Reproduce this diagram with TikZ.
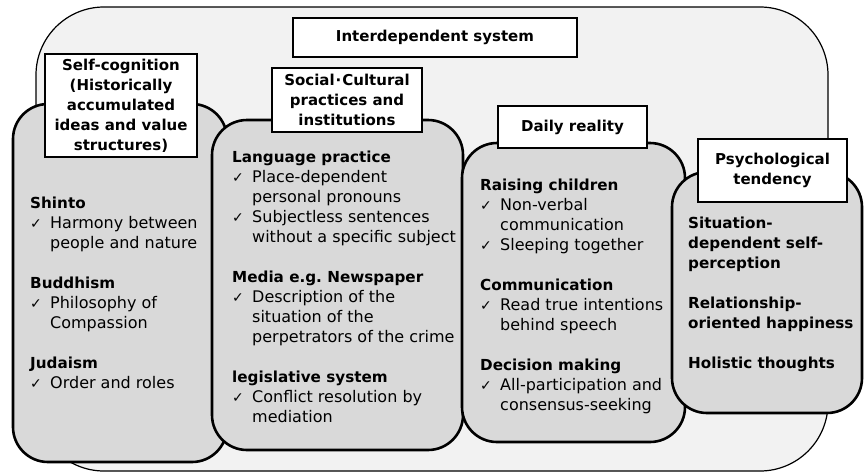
\documentclass[tikz,border=0pt]{standalone}
\usepackage{fontspec}
\setmainfont{DejaVu Sans}
\frenchspacing
\definecolor{outerfill}{HTML}{F2F2F2}
\definecolor{colfill}{HTML}{D9D9D9}
\newcommand{\ck}{\makebox[20pt][l]{\fontsize{14}{14}\selectfont ✓}}
\newcommand{\ind}{\hspace*{20pt}}
\newcommand{\hd}[1]{{\fontsize{15.2}{20}\selectfont\bfseries #1}}
\begin{document}
\begin{tikzpicture}[x=1pt,y=-1pt,
  outer/.style={draw=black, fill=outerfill, line width=1.2pt, rounded corners=68pt},
  col/.style={draw=black, fill=colfill, line width=2.6pt, rounded corners=35pt},
  lbl/.style={draw=black, fill=white, line width=1.1pt, align=center, inner sep=0pt,
    font=\fontsize{15}{20}\selectfont\bfseries},
  body/.style={anchor=base west, align=left, inner sep=0pt, font=\fontsize{16}{20}\selectfont}]
\useasboundingbox (0,0) rectangle (864,474);
\draw[outer] (36,7) rectangle (828,471);
\draw[col] (13,104) rectangle (227,462);
\draw[col] (212,120) rectangle (463,450);
\draw[col] (462,143) rectangle (685,442);
\draw[col] (672,172) rectangle (862,413);
\node[lbl, minimum width=284pt, minimum height=39pt] (system) at (435,37.5) {Interdependent system};
\node[lbl, minimum width=152pt, minimum height=103pt] (selfcog) at (121,105.5)
  {Self-cognition\\(Historically\\accumulated\\ideas and value\\structures)};
\node[lbl, minimum width=150pt, minimum height=64pt] (social) at (347,100)
  {Social\kern1pt·\kern1pt Cultural\\practices and\\institutions};
\node[lbl, minimum width=149pt, minimum height=42pt] (daily) at (572.5,127) {Daily reality};
\node[lbl, minimum width=149pt, minimum height=63pt] (psych) at (772.5,170.5)
  {Psychological\\tendency};
\node[body] (selfcogtext) at (30,388)
  {\hd{Shinto}\\ \ck Harmony between\\ \ind people and nature\\[20pt]
   \hd{Buddhism}\\ \ck Philosophy of\\ \ind Compassion\\[20pt]
   \hd{Judaism}\\ \ck Order and roles};
\node[body] (socialtext) at (232,422)
  {\hd{Language practice}\\ \ck Place-dependent\\ \ind personal pronouns\\
   \ck Subjectless sentences\\ \ind without a specific subject\\[20pt]
   \hd{Media e.g. Newspaper}\\ \ck Description of the\\ \ind situation of the\\
   \ind perpetrators of the crime\\[20pt]
   \hd{legislative system}\\ \ck Conflict resolution by\\ \ind mediation};
\node[body] (dailytext) at (480,410)
  {\hd{Raising children}\\ \ck Non-verbal\\ \ind communication\\ \ck Sleeping together\\[20pt]
   \hd{Communication}\\ \ck Read true intentions\\ \ind behind speech\\[20pt]
   \hd{Decision making}\\ \ck All-participation and\\ \ind consensus-seeking};
\node[body] (psychtext) at (688,368)
  {\hd{Situation-}\\ \hd{dependent self-}\\ \hd{perception}\\[20pt]
   \hd{Relationship-}\\ \hd{oriented happiness}\\[20pt]
   \hd{Holistic thoughts}};
\end{tikzpicture}
\end{document}
